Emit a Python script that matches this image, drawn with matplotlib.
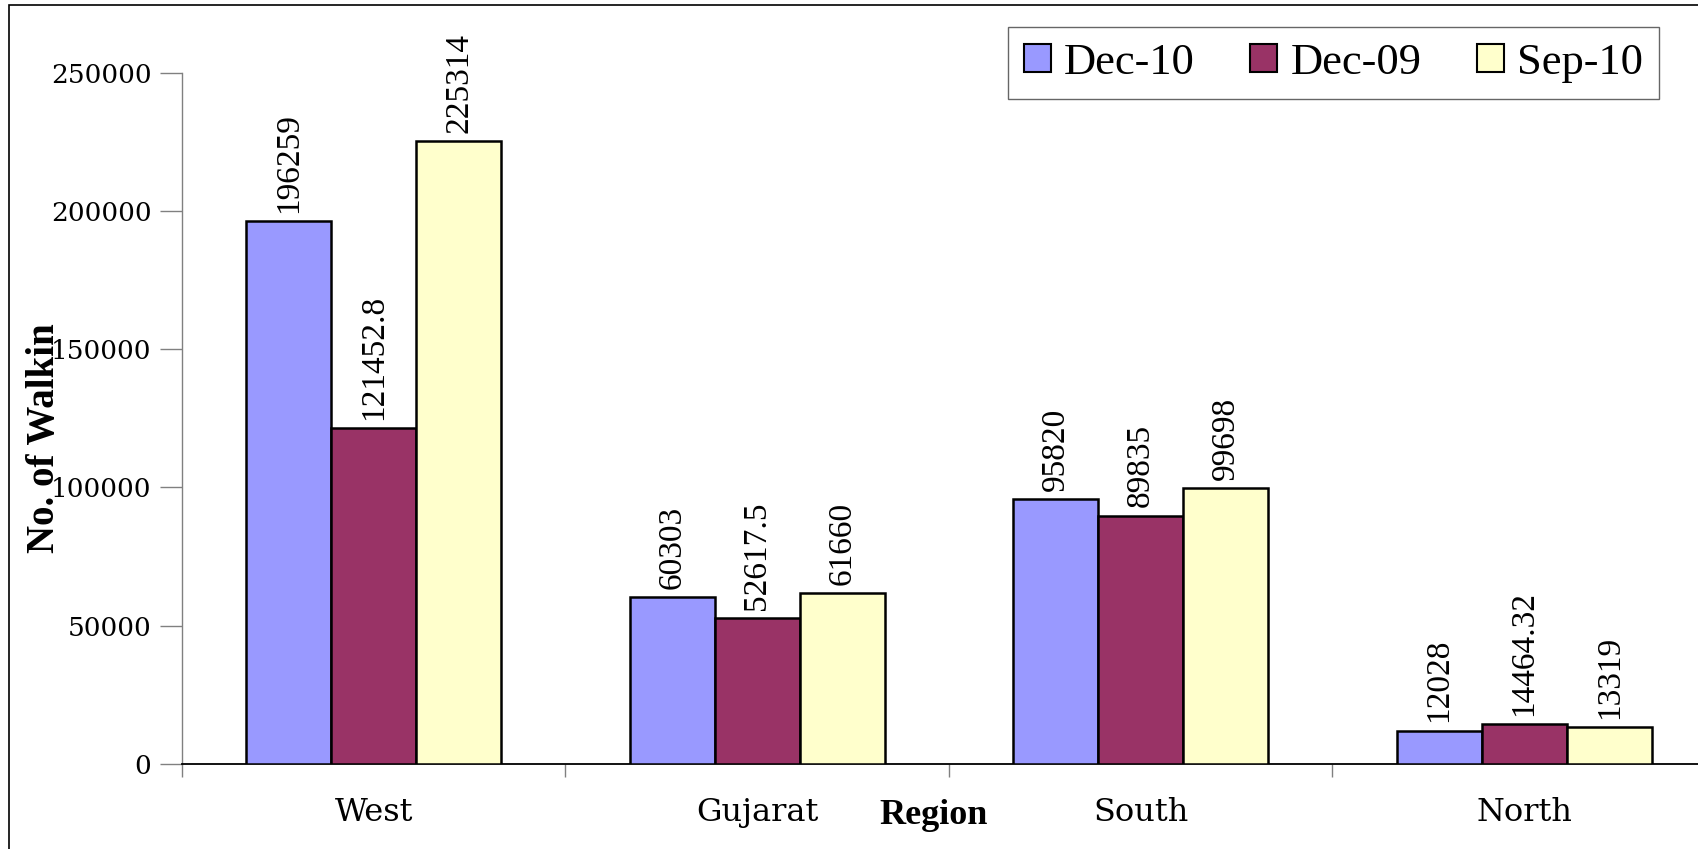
import matplotlib
matplotlib.use("Agg")
import matplotlib.pyplot as plt
from matplotlib.patches import Rectangle
from matplotlib.ticker import FixedLocator, NullFormatter
import numpy as np

# Walk-in counts by region for three periods
regions = ["West", "Gujarat", "South", "North"]
series_names = ["Dec-10", "Dec-09", "Sep-10"]
dec10 = [196259, 60303, 95820, 12028]
dec09 = [121452.8, 52617.5, 89835, 14464.32]
sep10 = [225314, 61660, 99698, 13319]
label_text = {
    "Dec-10": ["196259", "60303", "95820", "12028"],
    "Dec-09": ["121452.8", "52617.5", "89835", "14464.32"],
    "Sep-10": ["225314", "61660", "99698", "13319"],
}
yticks = [0, 50000, 100000, 150000, 200000, 250000]

colors = ["#9999FF", "#993366", "#FFFFCC"]

W, H, DPI = 1699, 849, 100
fig = plt.figure(figsize=(W / DPI, H / DPI), dpi=DPI)
fig.patch.set_facecolor("white")

# chart-area border (runs off the right and bottom edges)
fig.patches.append(Rectangle((9.5 / W, -0.2), 2.0, (H - 4.5) / H + 0.2,
                             transform=fig.transFigure, fill=False,
                             edgecolor="black", linewidth=1.2, zorder=0))

ax = fig.add_axes([182 / W, 85 / H, (1716 - 182) / W, (764 - 72.6) / H])

x = np.arange(len(regions))
w = 0.222
data = [dec10, dec09, sep10]
for i, (name, vals, col) in enumerate(zip(series_names, data, colors)):
    pos = x + (i - 1) * w
    bars = ax.bar(pos, vals, width=w, color=col, edgecolor="black",
                  linewidth=1.8, label=name, zorder=3)
    for b, v, t in zip(bars, vals, label_text[name]):
        ax.text(b.get_x() + b.get_width() / 2, v + 3000, t, rotation=90,
                ha="center", va="bottom", fontsize=24,
                fontfamily="Liberation Serif", color="black")

ax.set_xlim(-0.5, len(regions) - 0.5)
ax.set_ylim(0, 250000)

for s in ["top", "right"]:
    ax.spines[s].set_visible(False)
ax.spines["left"].set_color("#808080")
ax.spines["left"].set_linewidth(1.0)
ax.spines["bottom"].set_color("black")
ax.spines["bottom"].set_linewidth(1.3)

ax.set_yticks(yticks)
ax.set_yticklabels([str(v) for v in yticks], fontfamily="DejaVu Serif",
                   fontsize=19)
ax.tick_params(axis="y", direction="out", length=16, width=1.0,
               color="#808080", pad=6)

ax.set_xticks(x)
ax.set_xticklabels(regions, fontfamily="DejaVu Serif", fontsize=23)
ax.tick_params(axis="x", which="major", length=0, pad=24)
ax.xaxis.set_minor_locator(FixedLocator(np.arange(-0.5, len(regions), 1.0)))
ax.xaxis.set_minor_formatter(NullFormatter())
ax.tick_params(axis="x", which="minor", direction="out", length=9,
               width=1.0, color="#808080")

fig.text(45 / W, 1 - 438 / H, "No. of Walkin", rotation=90, ha="center",
         va="center", fontsize=28, fontweight="bold",
         fontfamily="Liberation Serif")
fig.text(934 / W, 1 - 815 / H, "Region", ha="center", va="center",
         fontsize=26, fontweight="bold", fontfamily="Liberation Serif")

leg = ax.legend(loc="upper left", bbox_to_anchor=(1008 / W, 1 - 27 / H),
                bbox_transform=fig.transFigure, ncol=3, frameon=True,
                fancybox=False, prop={"family": "Liberation Serif", "size": 32},
                handlelength=0.6, handleheight=0.6, handletextpad=0.3,
                columnspacing=1.25, borderpad=0.36, borderaxespad=0)
leg.get_frame().set_edgecolor("#404040")
leg.get_frame().set_linewidth(1.0)
for h in leg.legend_handles:
    h.set_linewidth(1.5)

fig.savefig("out.png", dpi=DPI)
